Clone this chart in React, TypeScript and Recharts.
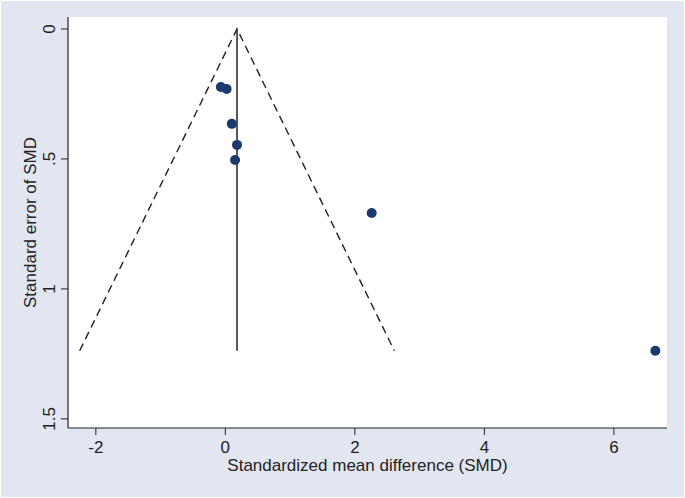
import { ScatterChart, Scatter, XAxis, YAxis, CartesianGrid, ReferenceLine, Label } from "recharts";

// study estimates
const smd = [-0.07, 0.02, 0.1, 0.18, 0.15, 2.26, 6.64];
const seSmd = [0.223, 0.231, 0.365, 0.446, 0.504, 0.708, 1.238];

// pooled estimate and pseudo 95% limits
const pooled = 0.18;
const maxSe = 1.238;
const limitX = [-2.25, pooled, 2.61];
const limitY = [maxSe, 0, maxSe];

const xTicks = [-2, 0, 2, 4, 6];
const yTicks = [0, 0.5, 1, 1.5];
const yTickLabels = ["0", ".5", "1", "1.5"];

const studies = smd.map((x, i) => ({ x, y: seSmd[i] }));
const limits = limitX.map((x, i) => ({ x, y: limitY[i] }));

const FONT = "'Liberation Sans', Arial, sans-serif";
const NAVY = "#1a3a6e";

function YTick(props: any) {
  const { x, y, payload } = props;
  const idx = yTicks.indexOf(payload.value);
  const bx = x - 4;
  return (
    <text
      x={bx}
      y={y}
      transform={`rotate(-90 ${bx} ${y})`}
      textAnchor="middle"
      fontFamily={FONT}
      fontSize={17}
      fill="#222"
    >
      {idx >= 0 ? yTickLabels[idx] : payload.value}
    </text>
  );
}

function Dot(props: any) {
  const { cx, cy } = props;
  return <circle cx={cx} cy={cy} r={5} fill={NAVY} />;
}

export default function App() {
  return (
    <div style={{ position: "absolute", left: 0, top: 0, width: 685, height: 498, background: "#fff" }}>
      <div style={{ position: "absolute", left: 1, top: 1, width: 683, height: 496, background: "#e2e6f0" }} />
      <div style={{ position: "absolute", left: 0, top: 0 }}>
        <ScatterChart width={685} height={498} margin={{ top: 17, right: 18, bottom: 0, left: 0 }}>
          <rect x={68} y={17} width={599} height={411} fill="#fff" />
          <CartesianGrid horizontal vertical={false} stroke="#dae2ef" strokeWidth={1.2} />
          <XAxis
            type="number"
            dataKey="x"
            domain={[-2.43, 6.82]}
            ticks={xTicks}
            allowDataOverflow
            height={70}
            axisLine={{ stroke: "#222", strokeWidth: 1.2 }}
            tickLine={{ stroke: "#222" }}
            tickSize={7}
            tickMargin={6}
            tick={{ fontFamily: FONT, fontSize: 17, fill: "#222" }}
          >
            <Label
              value="Standardized mean difference (SMD)"
              position="insideTop"
              offset={31}
              style={{ fontFamily: FONT, fontSize: 17, fill: "#222" }}
            />
          </XAxis>
          <YAxis
            type="number"
            dataKey="y"
            reversed
            domain={[-0.046, 1.535]}
            ticks={yTicks}
            allowDataOverflow
            width={68}
            axisLine={{ stroke: "#222", strokeWidth: 1.2 }}
            tickLine={{ stroke: "#222" }}
            tickSize={7}
            tick={<YTick />}
          >
            <Label
              value="Standard error of SMD"
              angle={-90}
              position="insideLeft"
              offset={30}
              style={{ fontFamily: FONT, fontSize: 17, fill: "#222", textAnchor: "middle" }}
            />
          </YAxis>
          <ReferenceLine
            segment={[
              { x: pooled, y: 0 },
              { x: pooled, y: maxSe },
            ]}
            stroke="#222"
            strokeWidth={1.5}
          />
          <Scatter
            data={limits}
            line={{ stroke: "#222", strokeWidth: 1.4, strokeDasharray: "8 5" }}
            shape={() => null}
            isAnimationActive={false}
          />
          <Scatter data={studies} shape={<Dot />} isAnimationActive={false} />
        </ScatterChart>
      </div>
    </div>
  );
}
